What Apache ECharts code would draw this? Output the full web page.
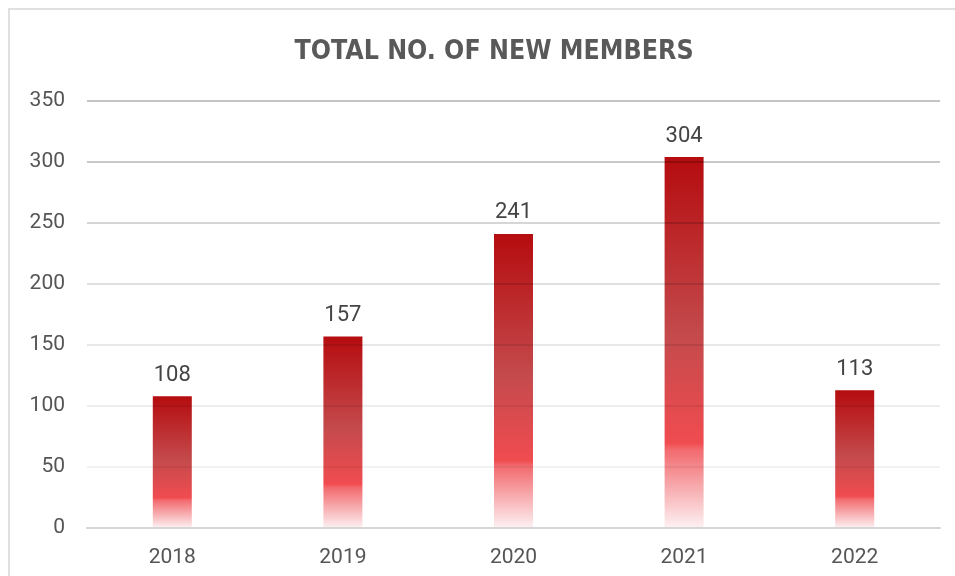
<!DOCTYPE html>
<html>
<head>
<meta charset="utf-8">
<style>
html,body{margin:0;padding:0;background:#fff;}
#chart{width:955px;height:576px;}
</style>
<script src="https://cdn.jsdelivr.net/npm/echarts@6/dist/echarts.min.js"></script>
</head>
<body>
<div id="chart"></div>
<script>
const categories = ['2018', '2019', '2020', '2021', '2022'];
const newMembers = [108, 157, 241, 304, 113];
const yTicks = { min: 0, max: 350, interval: 50 };

const chart = echarts.init(document.getElementById('chart'));
const barGradient = new echarts.graphic.LinearGradient(0, 0, 0, 1, [
  { offset: 0, color: '#b50c0f' },
  { offset: 0.48, color: '#c44a4c' },
  { offset: 0.77, color: '#f04c50' },
  { offset: 0.79, color: '#f26b6f' },
  { offset: 1, color: '#fdf1f3' }
]);
chart.setOption({
  animation: false,
  title: {
    text: 'TOTAL NO. OF NEW MEMBERS',
    left: 489, top: 34, textAlign: 'center',
    textStyle: { fontFamily: "'DejaVu Sans Condensed', 'Roboto Condensed', Roboto, sans-serif", fontWeight: 'bold', fontSize: 26.5, color: '#595959' }
  },
  graphic: [{
    type: 'rect', silent: true, z: -1,
    shape: { x: 9, y: 9, width: 1100, height: 800 },
    style: { fill: null, stroke: '#e0e0e0', lineWidth: 2 }
  }],
  grid: { left: 87, right: 15, top: 101, bottom: 48 },
  xAxis: {
    type: 'category', data: categories, z: 3,
    axisLine: { lineStyle: { color: '#d6d6d6', width: 2 } },
    axisTick: { show: false },
    axisLabel: { color: '#555', fontSize: 21, fontFamily: 'Roboto', margin: 19 }
  },
  yAxis: {
    type: 'value', min: yTicks.min, max: yTicks.max, interval: yTicks.interval, z: 3,
    axisLine: { show: false }, axisTick: { show: false },
    axisLabel: { color: '#555', fontSize: 21, fontFamily: 'Roboto', margin: 22 },
    splitLine: { lineStyle: { width: 2, color: [
      'rgba(0,0,0,0.15)', 'rgba(0,0,0,0.05)', 'rgba(0,0,0,0.065)', 'rgba(0,0,0,0.09)',
      'rgba(0,0,0,0.12)', 'rgba(0,0,0,0.16)', 'rgba(0,0,0,0.21)', 'rgba(0,0,0,0.23)'
    ] } }
  },
  series: [{
    type: 'bar', data: newMembers, barWidth: 39,
    itemStyle: { color: barGradient },
    label: { show: true, position: 'top', distance: 10, color: '#444', fontSize: 22, fontFamily: 'Roboto' }
  }]
});
</script>
</body>
</html>
